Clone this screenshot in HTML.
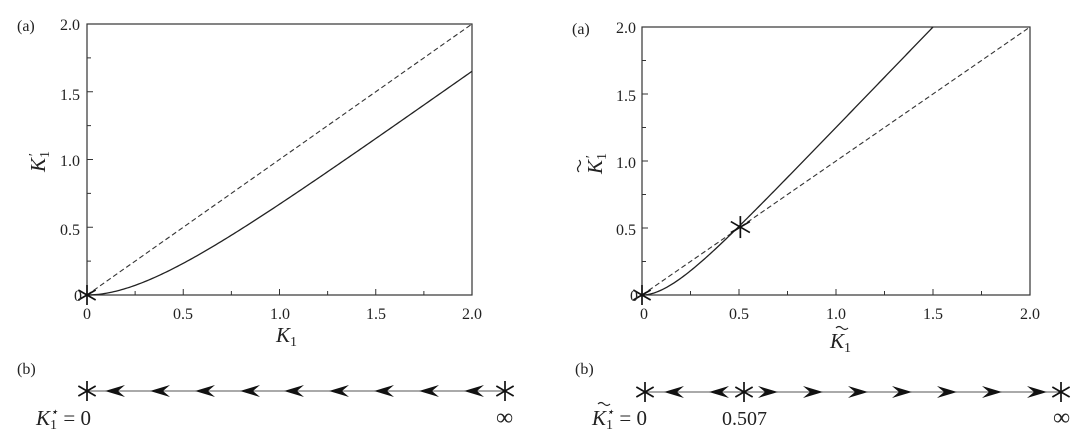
<!DOCTYPE html>
<html><head><meta charset="utf-8"><style>
body{margin:0;background:#fff}
svg{display:block}
text{font-family:"Liberation Serif",serif;fill:#222}
</style></head><body>
<svg id="s" width="1080" height="440" viewBox="0 0 1080 440" xmlns="http://www.w3.org/2000/svg">
<g stroke="#333" fill="none" stroke-width="1.2">
<rect x="87" y="24" width="385" height="271"/>
<rect x="642" y="27" width="388" height="268"/>
</g>
<g id="dyn"></g>
<g font-size="16">
<text x="17" y="31">(a)</text>
<text x="572" y="34">(a)</text>
<text x="17" y="374">(b)</text>
<text x="575" y="374">(b)</text>
<text x="80" y="30" text-anchor="end">2.0</text>
<text x="80" y="100" text-anchor="end">1.5</text>
<text x="80" y="166" text-anchor="end">1.0</text>
<text x="80" y="235" text-anchor="end">0.5</text>
<text x="82" y="301" text-anchor="end">0</text>
<text x="87" y="319" text-anchor="middle">0</text>
<text x="183" y="319" text-anchor="middle">0.5</text>
<text x="280" y="319" text-anchor="middle">1.0</text>
<text x="376" y="319" text-anchor="middle">1.5</text>
<text x="472" y="319" text-anchor="middle">2.0</text>
<text x="636" y="33" text-anchor="end">2.0</text>
<text x="636" y="101" text-anchor="end">1.5</text>
<text x="636" y="168" text-anchor="end">1.0</text>
<text x="636" y="235" text-anchor="end">0.5</text>
<text x="638" y="301" text-anchor="end">0</text>
<text x="644" y="319" text-anchor="middle">0</text>
<text x="739" y="319" text-anchor="middle">0.5</text>
<text x="836" y="319" text-anchor="middle">1.0</text>
<text x="933" y="319" text-anchor="middle">1.5</text>
<text x="1030" y="319" text-anchor="middle">2.0</text>
</g>
<g font-size="21" font-style="italic">
<text x="276" y="342">K<tspan font-size="14" font-style="normal" dy="4">1</tspan></text>
<text x="830" y="348">K<tspan font-size="14" font-style="normal" dy="4">1</tspan></text>
<text transform="translate(45,172) rotate(-90)">K<tspan font-size="14" font-style="normal" dy="4">1</tspan><tspan font-size="14" dy="-11" dx="-6">′</tspan></text>
<text transform="translate(602,174) rotate(-90)">K<tspan font-size="14" font-style="normal" dy="4">1</tspan><tspan font-size="14" dy="-11" dx="-6">′</tspan></text>
<text x="36" y="425">K<tspan font-size="14" font-style="normal" dy="4">1</tspan><tspan font-size="13" dy="-13" dx="-7">⋆</tspan><tspan font-style="normal" dy="9"> = 0</tspan></text>
<text x="592" y="425">K<tspan font-size="14" font-style="normal" dy="4">1</tspan><tspan font-size="13" dy="-13" dx="-7">⋆</tspan><tspan font-style="normal" dy="9"> = 0</tspan></text>
</g>
<g fill="none" stroke="#222" stroke-width="1.2">
<path d="M836,328 q3,-3 6,0 t6,0"/>
<path d="M598,404 q3,-3 6,0 t6,0"/>
<path d="M579,172 q-3,-3 0,-6 t0,-6"/>
</g>
<g font-size="20">
<text x="722" y="425">0.507</text>
<text x="496" y="425" font-size="24">∞</text>
<text x="1053" y="425" font-size="24">∞</text>
</g>
</svg>
<script>
(function(){
var NS="http://www.w3.org/2000/svg",g=document.getElementById("dyn");
function el(n,a){var e=document.createElementNS(NS,n);for(var k in a)e.setAttribute(k,a[k]);g.appendChild(e);return e;}
function panel(x0,y0,ux,uy,f,xmax){
 for(var i=1;i<8;i++){var L=(i%2==0)?6:4;
  el("line",{x1:x0+i*0.25*ux,y1:y0,x2:x0+i*0.25*ux,y2:y0-L,stroke:"#333","stroke-width":1});
  el("line",{x1:x0,y1:y0-i*0.25*uy,x2:x0+L,y2:y0-i*0.25*uy,stroke:"#333","stroke-width":1});}
 el("line",{x1:x0,y1:y0,x2:x0+2*ux,y2:y0-2*uy,stroke:"#333","stroke-width":1.1,"stroke-dasharray":"5,3"});
 var d="";for(var k=0;k<=200;k++){var x=xmax*k/200;d+=(k?"L":"M")+(x0+x*ux).toFixed(2)+","+(y0-f(x)*uy).toFixed(2);}
 el("path",{d:d,stroke:"#222","stroke-width":1.3,fill:"none"});
}
function star(x,y,r){for(var a=0;a<3;a++){var t=Math.PI/2+a*Math.PI/3;el("line",{x1:x-r*Math.cos(t),y1:y-r*Math.sin(t),x2:x+r*Math.cos(t),y2:y+r*Math.sin(t),stroke:"#111","stroke-width":1.7});}}
function arrow(x,y,dir){var s=dir;el("path",{d:"M"+x+","+y+" L"+(x+s*20)+","+(y-6)+" L"+(x+s*13)+","+y+" L"+(x+s*20)+","+(y+6)+" Z",fill:"#111"});}
panel(87,295,192.5,135.5,function(K){return K-0.35*(1-Math.exp(-K/0.35));},2);
panel(642,295,194,134,function(K){return 1.5*(K-0.1667*(1-Math.exp(-K/0.1667)));},1.5);
star(87,295,10);star(642,295,10);star(642+0.507*194,295-0.507*134,11);
el("line",{x1:87,y1:391,x2:505,y2:391,stroke:"#555","stroke-width":1});
[105,150,195,240,284,329,374,419,464].forEach(function(x){arrow(x,391,1);});
star(87,391,10);star(505,391,10);
el("line",{x1:645,y1:392,x2:1061,y2:392,stroke:"#555","stroke-width":1});
[664,709].forEach(function(x){arrow(x,392,1);});
[778,823,868,912,957,1002,1047].forEach(function(x){arrow(x,392,-1);});
star(645,392,10);star(744,392,10);star(1061,392,10);
})();
</script>
</body></html>
